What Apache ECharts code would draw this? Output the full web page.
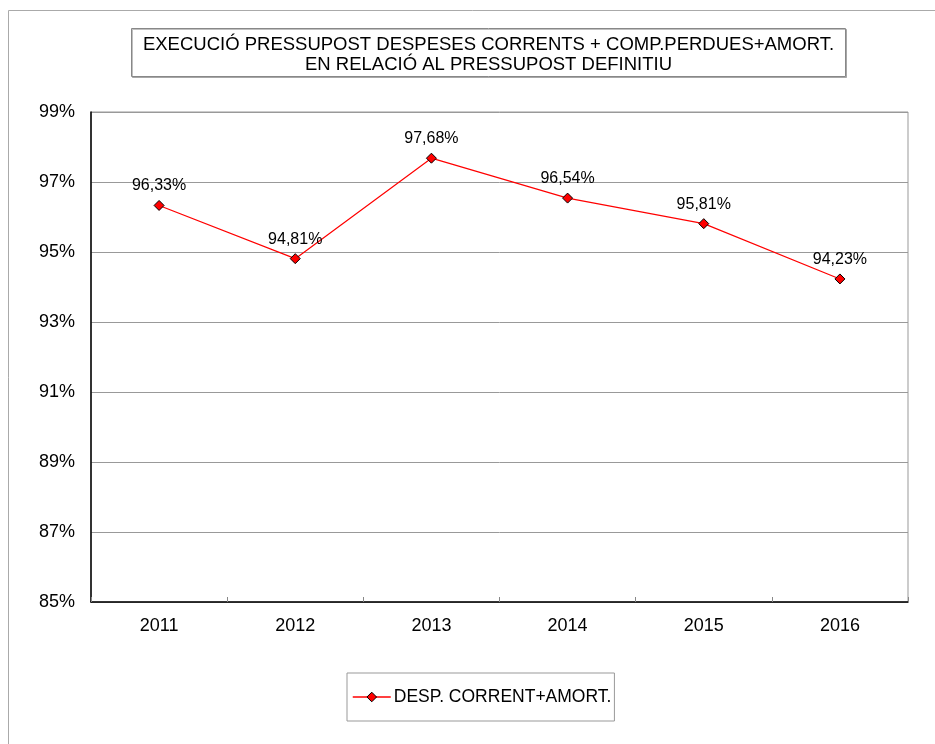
<!DOCTYPE html>
<html>
<head>
<meta charset="utf-8">
<script src="https://cdn.jsdelivr.net/npm/echarts@6/dist/echarts.min.js"></script>
<style>
html,body{margin:0;padding:0;background:#fff;}
#c{width:935px;height:744px;}
</style>
</head>
<body>
<div id="c"></div>
<script>
var categories = ['2011','2012','2013','2014','2015','2016'];
var values = [96.33, 94.81, 97.68, 96.54, 95.81, 94.23];
var seriesName = 'DESP. CORRENT+AMORT.';
var titleLines = ['EXECUCIÓ PRESSUPOST DESPESES CORRENTS + COMP.PERDUES+AMORT.', 'EN RELACIÓ AL PRESSUPOST DEFINITIU'];

var font = '"Liberation Sans", Arial, sans-serif';
var chart = echarts.init(document.getElementById('c'));
chart.setOption({
  animation: false,
  backgroundColor: '#fff',
  textStyle: {fontFamily: font},
  graphic: [
    {type: 'rect', shape: {x: 8.5, y: 10.5, width: 1000, height: 1000}, style: {fill: 'none', stroke: '#aaa', lineWidth: 1}, silent: true, z: 0},
    {type: 'rect', shape: {x: 131.5, y: 28.5, width: 714, height: 48}, style: {fill: '#fff', stroke: '#888', lineWidth: 1, shadowColor: 'rgba(0,0,0,0.25)', shadowOffsetX: 1, shadowOffsetY: 1}, z: 1},
    {type: 'text', x: 488.5, y: 55, style: {text: titleLines.join('\n'), font: '18.5px ' + font, fill: '#000', align: 'center', verticalAlign: 'middle', lineHeight: 20}, z: 2}
  ],
  grid: {left: 91, top: 112, right: 27, bottom: 142, show: true, borderColor: '#999', borderWidth: 1, backgroundColor: 'transparent'},
  legend: {
    data: [seriesName],
    left: 347, top: 673,
    padding: [15, 3, 15, 5],
    borderColor: '#999', borderWidth: 1,
    itemWidth: 38, itemHeight: 12,
    itemStyle: {color: '#ff0000', borderColor: '#000', borderWidth: 1},
    lineStyle: {color: '#ff0000', width: 1.5},
    textStyle: {fontSize: 17.5, color: '#000', fontFamily: font, padding: [0, 0, 0, -2]},
    itemGap: 4
  },
  xAxis: {
    type: 'category',
    data: categories,
    boundaryGap: true,
    axisLine: {lineStyle: {color: '#000', width: 1.5}},
    axisTick: {show: true, inside: true, length: 5, lineStyle: {color: '#888'}},
    axisLabel: {fontSize: 18, color: '#000', margin: 15, fontFamily: font}
  },
  yAxis: {
    type: 'value',
    min: 85, max: 99, interval: 2,
    axisLine: {show: true, lineStyle: {color: '#000', width: 1.5}},
    axisTick: {show: false},
    splitLine: {lineStyle: {color: '#999', width: 1}},
    axisLabel: {fontSize: 18, color: '#000', margin: 16, fontFamily: font, formatter: function(v){return v + '%';}}
  },
  series: [{
    name: seriesName,
    type: 'line',
    data: values,
    symbol: 'diamond',
    symbolSize: 10,
    lineStyle: {color: '#ff0000', width: 1.2},
    itemStyle: {color: '#ff0000', borderColor: '#000', borderWidth: 1},
    label: {show: true, position: 'top', distance: 6, fontSize: 16, color: '#000', fontFamily: font,
      formatter: function(p){return p.value.toFixed(2).replace('.', ',') + '%';}}
  }]
});
</script>
</body>
</html>
